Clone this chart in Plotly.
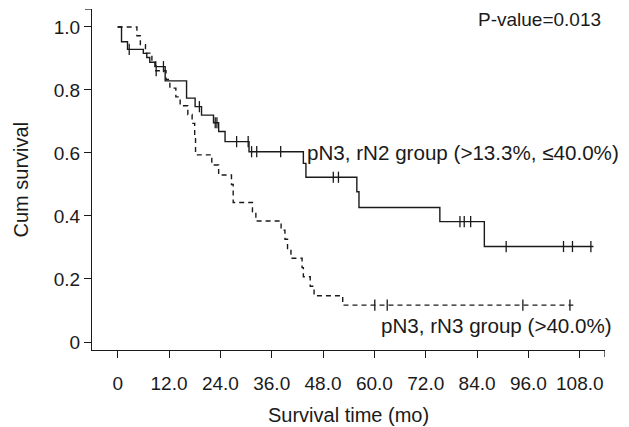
import bisect
import plotly.graph_objects as go

# ---------------- data ----------------
# pN3, rN2 group (>13.3%, <=40.0%)  -- solid line
rn2_times = [0, 0.9, 2.3, 6.0, 6.8, 7.5, 8.7, 11.1, 16.1, 18.1, 19.6, 22.4, 23.6, 25.1,
             30.7, 43.4, 44.0, 55.9, 56.4, 75.3, 85.7, 111.2]
rn2_surv = [1.0, 0.953, 0.929, 0.916, 0.903, 0.888, 0.874, 0.829, 0.774, 0.747, 0.720,
            0.696, 0.668, 0.636, 0.604, 0.567, 0.523, 0.477, 0.427, 0.382, 0.303, 0.303]
rn2_censored = [2.7, 10.7, 19.1, 22.8, 23.2, 27.8, 30.5, 31.3, 32.5, 38.1, 50.4, 51.6,
                80.0, 81.0, 82.5, 90.8, 104.2, 106.3, 110.6]

# pN3, rN3 group (>40.0%)  -- dashed line
rn3_times = [0, 4.5, 5.3, 6.5, 8.0, 8.9, 11.3, 12.2, 13.6, 14.6, 16.4, 17.4, 18.0, 18.2,
             22.0, 23.6, 26.6, 27.0, 31.5, 32.3, 38.2, 39.1, 39.7, 40.5, 43.1, 43.4,
             45.0, 45.9, 52.6, 106.5]
rn3_surv = [1.0, 0.972, 0.944, 0.917, 0.889, 0.861, 0.833, 0.806, 0.778, 0.750, 0.722,
            0.694, 0.650, 0.594, 0.562, 0.530, 0.500, 0.443, 0.413, 0.384, 0.355, 0.326,
            0.297, 0.266, 0.236, 0.207, 0.177, 0.147, 0.117, 0.117]
rn3_censored = [9.0, 60.1, 63.0, 94.7, 105.7]

x_ticks = [0, 12, 24, 36, 48, 60, 72, 84, 96, 108]
x_tick_labels = ["0", "12.0", "24.0", "36.0", "48.0", "60.0", "72.0", "84.0", "96.0", "108.0"]
y_ticks = [0, 0.2, 0.4, 0.6, 0.8, 1.0]
y_tick_labels = ["0", "0.2", "0.4", "0.6", "0.8", "1.0"]

p_value_text = "P-value=0.013"
rn2_label = "pN3, rN2 group (>13.3%, ≤40.0%)"
rn3_label = "pN3, rN3 group (>40.0%)"
x_title = "Survival time (mo)"
y_title = "Cum survival"

X_RANGE = [-6.0, 113.9]
Y_RANGE = [-0.0254, 1.057]
FONT = "Liberation Sans, Arial, sans-serif"
FS = 19
INK = "#1a1a1a"


def step_at(times, surv, t):
    i = bisect.bisect_right(times, t) - 1
    return surv[max(i, 0)]


fig = go.Figure()

fig.add_trace(go.Scatter(x=rn2_times, y=rn2_surv, mode="lines", line_shape="hv",
                         line=dict(color=INK, width=1.4), showlegend=False))
fig.add_trace(go.Scatter(x=rn3_times, y=rn3_surv, mode="lines", line_shape="hv",
                         line=dict(color=INK, width=1.4, dash="5px,4px"),
                         showlegend=False))

fig.add_trace(go.Scatter(x=rn2_censored,
                         y=[step_at(rn2_times, rn2_surv, t) for t in rn2_censored],
                         mode="markers",
                         marker=dict(symbol="line-ns", size=8,
                                     line=dict(color=INK, width=1.3)),
                         showlegend=False))
fig.add_trace(go.Scatter(x=rn3_censored,
                         y=[step_at(rn3_times, rn3_surv, t) for t in rn3_censored],
                         mode="markers",
                         marker=dict(symbol="line-ns", size=8,
                                     line=dict(color=INK, width=1.3)),
                         showlegend=False))

axis_common = dict(showline=True, linecolor=INK, linewidth=1.3, ticks="outside",
                   ticklen=7, tickwidth=1.3, tickcolor=INK, showgrid=False,
                   zeroline=False, tickfont=dict(family=FONT, size=FS, color=INK))

fig.update_xaxes(range=X_RANGE, tickvals=x_ticks, ticktext=x_tick_labels,
                 ticklabelstandoff=9, **axis_common)
fig.update_yaxes(range=Y_RANGE, tickvals=y_ticks, ticktext=y_tick_labels, **axis_common)

# end ticks at the ends of the axis lines
fig.add_shape(type="line", xref="x", yref="paper", x0=X_RANGE[1], x1=X_RANGE[1],
              y0=0, y1=-7 / 341, line=dict(color=INK, width=1.3))
fig.add_shape(type="line", xref="paper", yref="y", x0=0, x1=-7 / 513,
              y0=Y_RANGE[1], y1=Y_RANGE[1], line=dict(color=INK, width=1.3))

txt = dict(family=FONT, size=FS, color=INK)
lbl = dict(family=FONT, size=20.6, color=INK)
fig.add_annotation(text=p_value_text, xref="paper", yref="paper", x=0.996, y=0.968,
                   xanchor="right", yanchor="middle", showarrow=False, font=txt)
fig.add_annotation(text=rn2_label, xref="paper", yref="paper", x=(305 - 92) / 513,
                   y=(350 - 153) / 341, xanchor="left", yanchor="middle",
                   showarrow=False, font=lbl)
fig.add_annotation(text=rn3_label, xref="paper", yref="paper", x=(614 - 92) / 513,
                   y=(350 - 325) / 341, xanchor="right", yanchor="middle",
                   showarrow=False, font=lbl)
fig.add_annotation(text=x_title, xref="paper", yref="paper", x=0.5,
                   y=-(415 - 350) / 341, xanchor="center", yanchor="middle",
                   showarrow=False, font=dict(family=FONT, size=20, color=INK))
fig.add_annotation(text=y_title, xref="paper", yref="paper", x=(20 - 92) / 513,
                   y=0.5, xanchor="center", yanchor="middle", textangle=-90,
                   showarrow=False, font=dict(family=FONT, size=20, color=INK))

# the page body has an 8px margin, so the figure is sized to fill the rest of the window
fig.update_layout(width=621, height=419, margin=dict(l=84, r=24, t=1, b=77),
                  plot_bgcolor="white", paper_bgcolor="white", showlegend=False)

fig.write_html("out.html")
